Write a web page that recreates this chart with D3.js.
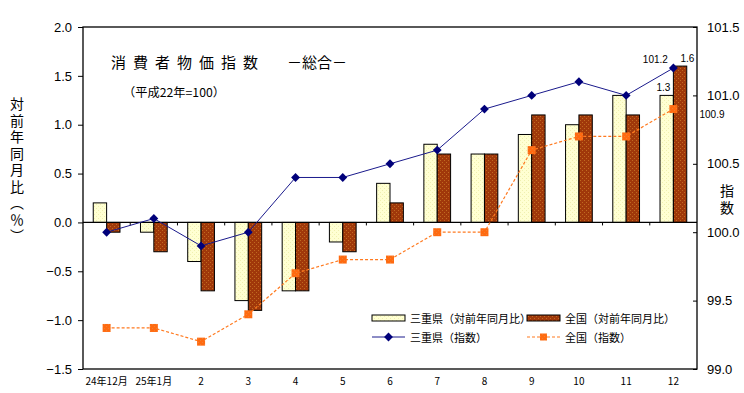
<!DOCTYPE html>
<html><head><meta charset="utf-8">
<script src="https://cdn.jsdelivr.net/npm/d3@7"></script>
<style>
html,body{margin:0;padding:0;background:#fff;}
svg{display:block;}
text{font-family:"Liberation Sans",Arial,sans-serif;}
.jp{font-family:"Noto Sans CJK JP","Noto Sans CJK SC",sans-serif;}
.vt{writing-mode:vertical-rl;font-family:"Noto Sans CJK JP","Noto Sans CJK SC",sans-serif;}
</style></head>
<body>
<svg id="chart" width="744" height="393"></svg>
<script>
const categories = ["24年12月","25年1月","2","3","4","5","6","7","8","9","10","11","12"];
const mieYoY   = [0.2,-0.1,-0.4,-0.8,-0.7,-0.2,0.4,0.8,0.7,0.9,1.0,1.3,1.3];
const natYoY   = [-0.1,-0.3,-0.7,-0.9,-0.7,-0.3,0.2,0.7,0.7,1.1,1.1,1.1,1.6];
const mieIndex = [100.0,100.1,99.9,100.0,100.4,100.4,100.5,100.6,100.9,101.0,101.1,101.0,101.2];
const natIndex = [99.3,99.3,99.2,99.4,99.7,99.8,99.8,100.0,100.0,100.6,100.7,100.7,100.9];
const leftTicks  = [2.0,1.5,1.0,0.5,0.0,-0.5,-1.0,-1.5];
const rightTicks = [101.5,101.0,100.5,100.0,99.5,99.0];
const legendLabels = ["三重県（対前年同月比）","全国（対前年同月比）","三重県（指数）","全国（指数）"];

const svg = d3.select("#chart");
const L = 83, R = 697, T = 27, B = 369;

const defs = svg.append("defs");
function dotPattern(id, bg, dot){
  const p = defs.append("pattern").attr("id",id).attr("width",4).attr("height",4)
    .attr("patternUnits","userSpaceOnUse");
  p.append("rect").attr("width",4).attr("height",4).attr("fill",bg);
  p.append("rect").attr("x",0).attr("y",0).attr("width",1).attr("height",1).attr("fill",dot);
  p.append("rect").attr("x",2).attr("y",2).attr("width",1).attr("height",1).attr("fill",dot);
}
dotPattern("pMie","#FFFFD2","#F0F0B0");
dotPattern("pNat","#A0380A","#C06A20");
dotPattern("pOr","#FF6A10","#F08030");

const x = d3.scaleBand().domain(categories).range([L,R]).paddingInner(0).paddingOuter(0);
const yL = d3.scaleLinear().domain([-1.5,2.0]).range([B,T]);
const yR = d3.scaleLinear().domain([99.0,101.5]).range([B,T]);
const bw = x.bandwidth()*0.283;
const cx = c => x(c)+x.bandwidth()/2;

// Bars
const g = svg.append("g");
categories.forEach((c,i)=>{
  const v1 = mieYoY[i], v2 = natYoY[i];
  g.append("rect").attr("x",cx(c)-bw).attr("width",bw)
    .attr("y",yL(Math.max(0,v1))).attr("height",Math.abs(yL(v1)-yL(0)))
    .attr("fill","url(#pMie)").attr("stroke","#000").attr("stroke-width",1);
  g.append("rect").attr("x",cx(c)).attr("width",bw)
    .attr("y",yL(Math.max(0,v2))).attr("height",Math.abs(yL(v2)-yL(0)))
    .attr("fill","url(#pNat)").attr("stroke","#000").attr("stroke-width",1);
});

// frame
svg.append("rect").attr("x",L).attr("y",T).attr("width",R-L).attr("height",B-T)
  .attr("fill","none").attr("stroke","#000").attr("stroke-width",1.3);

// zero axis with boundary ticks
svg.append("line").attr("x1",L).attr("x2",R).attr("y1",yL(0)).attr("y2",yL(0))
  .attr("stroke","#000").attr("stroke-width",1.3);
categories.forEach((c,i)=>{ if(i>0){
  svg.append("line").attr("x1",x(c)).attr("x2",x(c)).attr("y1",yL(0)).attr("y2",yL(0)+3)
    .attr("stroke","#000").attr("stroke-width",1);
}});

// left axis
const la = svg.append("g").attr("transform",`translate(${L},0)`)
  .call(d3.axisLeft(yL).tickValues(leftTicks).tickSize(5).tickPadding(6).tickFormat(d3.format(".1f")));
la.select(".domain").remove();
la.selectAll("line").attr("stroke","#000");
la.selectAll("text").attr("font-size",13).attr("fill","#000")
  .text(d=>d3.format(".1f")(d).replace("-","−"));

// right axis (ticks inward)
const ra = svg.append("g").attr("transform",`translate(${R},0)`)
  .call(d3.axisRight(yR).tickValues(rightTicks).tickSize(0).tickPadding(10).tickFormat(d3.format(".1f")));
ra.select(".domain").remove();
ra.selectAll(".tick").append("line").attr("x1",-4).attr("x2",0).attr("stroke","#000");
ra.selectAll("text").attr("font-size",13).attr("fill","#000");

// x labels
svg.append("g").selectAll("text").data(categories).join("text")
  .attr("class","jp").attr("x",d=>cx(d)).attr("y",385).attr("text-anchor","middle")
  .attr("font-size",10).attr("fill","#000").text(d=>d);

// lines
const lineGen = d3.line().x((d,i)=>cx(categories[i]));
svg.append("path").datum(natIndex).attr("d",lineGen.y(d=>yR(d)))
  .attr("fill","none").attr("stroke","#FF7A20").attr("stroke-width",1.2).attr("stroke-dasharray","3,2");
svg.append("g").selectAll("rect").data(natIndex).join("rect")
  .attr("x",(d,i)=>cx(categories[i])-4).attr("y",d=>yR(d)-4).attr("width",8).attr("height",8)
  .attr("fill","url(#pOr)");
svg.append("path").datum(mieIndex).attr("d",lineGen.y(d=>yR(d)))
  .attr("fill","none").attr("stroke","#1A1A8C").attr("stroke-width",1);
const diamond = d3.symbol().type(d3.symbolDiamond2).size(50);
svg.append("g").selectAll("path").data(mieIndex).join("path")
  .attr("d",diamond).attr("transform",(d,i)=>`translate(${cx(categories[i])},${yR(d)})`)
  .attr("fill","#00007A");

// annotations
const last = categories.length-1, lc = cx(categories[last]);
svg.append("text").attr("x",lc-18).attr("y",yR(mieIndex[last])-5).attr("text-anchor","middle")
  .attr("font-size",10).text(d3.format(".1f")(mieIndex[last]));
svg.append("text").attr("x",lc+14).attr("y",yL(natYoY[last])-4).attr("text-anchor","middle")
  .attr("font-size",10).text(d3.format(".1f")(natYoY[last]));
svg.append("text").attr("x",lc-10).attr("y",yL(mieYoY[last])-4).attr("text-anchor","middle")
  .attr("font-size",10).text(d3.format(".1f")(mieYoY[last]));
svg.append("text").attr("x",R+15).attr("y",yR(natIndex[last])+9).attr("text-anchor","middle")
  .attr("font-size",10).text(d3.format(".1f")(natIndex[last]));

// title
svg.append("text").attr("class","jp").attr("x",111).attr("y",68).attr("font-size",15)
  .attr("letter-spacing","7px").text("消費者物価指数");
svg.append("text").attr("class","jp").attr("x",287).attr("y",68).attr("font-size",15)
  .attr("letter-spacing","0px").text("－総合－");
svg.append("text").attr("class","jp").attr("x",123).attr("y",97).attr("font-size",12)
  .attr("textLength",102).attr("lengthAdjust","spacingAndGlyphs").text("（平成22年=100）");

// left axis title vertical
svg.append("text").attr("class","vt").attr("x",17).attr("y",97)
  .attr("font-size",14).attr("letter-spacing","2.5px").text("対前年同月比（％）");
// right axis title
svg.append("text").attr("class","vt").attr("x",727).attr("y",184)
  .attr("font-size",14).attr("letter-spacing","2.5px").text("指数");

// legend
const lg = svg.append("g");
const lx = [372,527], ly = [318,337];
lg.append("rect").attr("x",lx[0]).attr("y",ly[0]-3).attr("width",33).attr("height",6)
  .attr("fill","url(#pMie)").attr("stroke","#000");
lg.append("rect").attr("x",lx[1]).attr("y",ly[0]-3).attr("width",33).attr("height",6)
  .attr("fill","url(#pNat)").attr("stroke","#000");
lg.append("line").attr("x1",lx[0]).attr("x2",lx[0]+33).attr("y1",ly[1]).attr("y2",ly[1])
  .attr("stroke","#1A1A8C").attr("stroke-width",1);
lg.append("path").attr("d",diamond).attr("transform",`translate(${lx[0]+16.5},${ly[1]})`).attr("fill","#00007A");
lg.append("line").attr("x1",lx[1]).attr("x2",lx[1]+33).attr("y1",ly[1]).attr("y2",ly[1])
  .attr("stroke","#FF7A20").attr("stroke-width",1.2).attr("stroke-dasharray","3,2");
lg.append("rect").attr("x",lx[1]+13).attr("y",ly[1]-3.5).attr("width",7).attr("height",7).attr("fill","url(#pOr)");
[[0,0],[1,0],[0,1],[1,1]].forEach(([c,r],k)=>{
  lg.append("text").attr("class","jp").attr("x",lx[c]+38).attr("y",ly[r]).attr("dominant-baseline","central")
    .attr("font-size",11).text(legendLabels[k]);
});
</script>
</body></html>
